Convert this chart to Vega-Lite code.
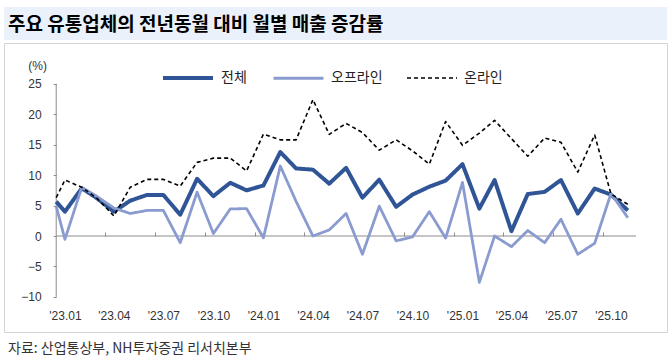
{
  "$schema": "https://vega.github.io/schema/vega-lite/v6.json",
  "background": "white",
  "padding": {"left": 3, "top": 7, "right": 0, "bottom": 0},
  "spacing": 2,
  "config": {
    "font": "Liberation Sans",
    "axis": {"labelFont": "Liberation Sans", "labelFontSize": 12, "labelColor": "#333", "titleFont": "Liberation Sans", "titleFontWeight": "normal", "titleFontSize": 12, "titleColor": "#333"}
  },
  "vconcat": [
    {
      "width": 663,
      "height": 33,
      "view": {"fill": "#eaf1fb", "stroke": null},
      "title": {"text": "주요 유통업체의 전년동월 대비 월별 매출 증감률", "anchor": "start", "frame": "group", "offset": -28, "dx": 4, "fontSize": 19, "font": "Noto Sans CJK KR", "fontWeight": "bold", "color": "#000000"},
      "data": {"values": [{"k": 1}]},
      "mark": {"type": "rect", "opacity": 0},
      "encoding": {}
    },
    {
      "width": 663,
      "height": 289,
      "view": {"fill": "white", "stroke": "#d4d4d4"},
      "title": {"text": "자료: 산업통상부, NH투자증권 리서치본부", "orient": "bottom", "anchor": "start", "frame": "group", "offset": 10, "dx": 4, "fontSize": 14, "font": "Noto Sans CJK KR", "fontWeight": "normal", "color": "#333"},
      "layer": [
        {
          "data": {"values": [{"k": 1}]},
          "mark": {"type": "rule", "color": "#8c8c8c", "strokeWidth": 1},
          "encoding": {
            "x": {"datum": {"year": 2022, "month": 12, "date": 16}, "type": "temporal", "scale": {"domain": [{"year": 2022, "month": 9, "date": 11}, {"year": 2026, "month": 1, "date": 12}]}, "axis": null},
            "y": {"datum": -10, "type": "quantitative", "scale": {"domain": [-15.77, 31.71], "nice": false, "zero": false}, "axis": null},
            "y2": {"datum": 25}
          }
        },
        {
          "data": {"values": [{"k": 1}]},
          "mark": {"type": "rule", "color": "#8c8c8c", "strokeWidth": 1},
          "encoding": {
            "x": {"datum": {"year": 2022, "month": 12, "date": 16}, "type": "temporal", "scale": {"domain": [{"year": 2022, "month": 9, "date": 11}, {"year": 2026, "month": 1, "date": 12}]},
              "axis": {"orient": "top", "offset": -193, "values": [{"year": 2023, "month": 3, "date": 16}, {"year": 2023, "month": 6, "date": 16}, {"year": 2023, "month": 9, "date": 16}, {"year": 2023, "month": 12, "date": 16}, {"year": 2024, "month": 3, "date": 16}, {"year": 2024, "month": 6, "date": 16}, {"year": 2024, "month": 9, "date": 16}, {"year": 2024, "month": 12, "date": 16}, {"year": 2025, "month": 3, "date": 16}, {"year": 2025, "month": 6, "date": 16}, {"year": 2025, "month": 9, "date": 16}], "labels": false, "domain": false, "grid": false, "ticks": true, "tickSize": 4, "tickColor": "#8c8c8c", "title": null}},
            "x2": {"datum": {"year": 2025, "month": 11, "date": 16}},
            "y": {"datum": 0, "type": "quantitative", "scale": {"domain": [-15.77, 31.71], "nice": false, "zero": false}, "axis": null}
          }
        },
        {
          "data": {"values": [
            {"month": "2022/12/16", "series": "전체", "value": 5.65},
            {"month": "2023/01/01", "series": "전체", "value": 4.0},
            {"month": "2023/02/01", "series": "전체", "value": 7.85},
            {"month": "2023/03/01", "series": "전체", "value": 6.2},
            {"month": "2023/04/01", "series": "전체", "value": 4.0},
            {"month": "2023/05/01", "series": "전체", "value": 5.8},
            {"month": "2023/06/01", "series": "전체", "value": 6.75},
            {"month": "2023/07/01", "series": "전체", "value": 6.75},
            {"month": "2023/08/01", "series": "전체", "value": 3.5},
            {"month": "2023/09/01", "series": "전체", "value": 9.4},
            {"month": "2023/10/01", "series": "전체", "value": 6.55},
            {"month": "2023/11/01", "series": "전체", "value": 8.75},
            {"month": "2023/12/01", "series": "전체", "value": 7.5},
            {"month": "2024/01/01", "series": "전체", "value": 8.3},
            {"month": "2024/02/01", "series": "전체", "value": 13.8},
            {"month": "2024/03/01", "series": "전체", "value": 11.1},
            {"month": "2024/04/01", "series": "전체", "value": 10.9},
            {"month": "2024/05/01", "series": "전체", "value": 8.6},
            {"month": "2024/06/01", "series": "전체", "value": 11.2},
            {"month": "2024/07/01", "series": "전체", "value": 6.3},
            {"month": "2024/08/01", "series": "전체", "value": 9.25},
            {"month": "2024/09/01", "series": "전체", "value": 4.8},
            {"month": "2024/10/01", "series": "전체", "value": 6.8},
            {"month": "2024/11/01", "series": "전체", "value": 8.1},
            {"month": "2024/12/01", "series": "전체", "value": 9.1},
            {"month": "2025/01/01", "series": "전체", "value": 11.8},
            {"month": "2025/02/01", "series": "전체", "value": 4.5},
            {"month": "2025/03/01", "series": "전체", "value": 9.2},
            {"month": "2025/04/01", "series": "전체", "value": 0.8},
            {"month": "2025/05/01", "series": "전체", "value": 6.9},
            {"month": "2025/06/01", "series": "전체", "value": 7.25},
            {"month": "2025/07/01", "series": "전체", "value": 9.2},
            {"month": "2025/08/01", "series": "전체", "value": 3.7},
            {"month": "2025/09/01", "series": "전체", "value": 7.8},
            {"month": "2025/10/01", "series": "전체", "value": 6.8},
            {"month": "2025/11/01", "series": "전체", "value": 4.2},
            {"month": "2022/12/16", "series": "오프라인", "value": 4.9},
            {"month": "2023/01/01", "series": "오프라인", "value": -0.55},
            {"month": "2023/02/01", "series": "오프라인", "value": 8.0},
            {"month": "2023/03/01", "series": "오프라인", "value": 6.5},
            {"month": "2023/04/01", "series": "오프라인", "value": 4.6},
            {"month": "2023/05/01", "series": "오프라인", "value": 3.7},
            {"month": "2023/06/01", "series": "오프라인", "value": 4.2},
            {"month": "2023/07/01", "series": "오프라인", "value": 4.2},
            {"month": "2023/08/01", "series": "오프라인", "value": -1.1},
            {"month": "2023/09/01", "series": "오프라인", "value": 7.2},
            {"month": "2023/10/01", "series": "오프라인", "value": 0.4},
            {"month": "2023/11/01", "series": "오프라인", "value": 4.45},
            {"month": "2023/12/01", "series": "오프라인", "value": 4.5},
            {"month": "2024/01/01", "series": "오프라인", "value": -0.3},
            {"month": "2024/02/01", "series": "오프라인", "value": 11.5},
            {"month": "2024/03/01", "series": "오프라인", "value": 5.7},
            {"month": "2024/04/01", "series": "오프라인", "value": 0.0},
            {"month": "2024/05/01", "series": "오프라인", "value": 1.0},
            {"month": "2024/06/01", "series": "오프라인", "value": 3.7},
            {"month": "2024/07/01", "series": "오프라인", "value": -3.0},
            {"month": "2024/08/01", "series": "오프라인", "value": 4.9},
            {"month": "2024/09/01", "series": "오프라인", "value": -0.8},
            {"month": "2024/10/01", "series": "오프라인", "value": -0.15},
            {"month": "2024/11/01", "series": "오프라인", "value": 4.0},
            {"month": "2024/12/01", "series": "오프라인", "value": -0.35},
            {"month": "2025/01/01", "series": "오프라인", "value": 8.8},
            {"month": "2025/02/01", "series": "오프라인", "value": -7.6},
            {"month": "2025/03/01", "series": "오프라인", "value": 0.0},
            {"month": "2025/04/01", "series": "오프라인", "value": -1.75},
            {"month": "2025/05/01", "series": "오프라인", "value": 0.9},
            {"month": "2025/06/01", "series": "오프라인", "value": -1.1},
            {"month": "2025/07/01", "series": "오프라인", "value": 2.75},
            {"month": "2025/08/01", "series": "오프라인", "value": -3.0},
            {"month": "2025/09/01", "series": "오프라인", "value": -1.2},
            {"month": "2025/10/01", "series": "오프라인", "value": 7.0},
            {"month": "2025/11/01", "series": "오프라인", "value": 3.0},
            {"month": "2022/12/16", "series": "온라인", "value": 6.3},
            {"month": "2023/01/01", "series": "온라인", "value": 9.2},
            {"month": "2023/02/01", "series": "온라인", "value": 8.0},
            {"month": "2023/03/01", "series": "온라인", "value": 6.2},
            {"month": "2023/04/01", "series": "온라인", "value": 3.3},
            {"month": "2023/05/01", "series": "온라인", "value": 8.0},
            {"month": "2023/06/01", "series": "온라인", "value": 9.3},
            {"month": "2023/07/01", "series": "온라인", "value": 9.3},
            {"month": "2023/08/01", "series": "온라인", "value": 8.2},
            {"month": "2023/09/01", "series": "온라인", "value": 12.1},
            {"month": "2023/10/01", "series": "온라인", "value": 12.8},
            {"month": "2023/11/01", "series": "온라인", "value": 12.8},
            {"month": "2023/12/01", "series": "온라인", "value": 10.7},
            {"month": "2024/01/01", "series": "온라인", "value": 16.75},
            {"month": "2024/02/01", "series": "온라인", "value": 15.8},
            {"month": "2024/03/01", "series": "온라인", "value": 15.8},
            {"month": "2024/04/01", "series": "온라인", "value": 22.4},
            {"month": "2024/05/01", "series": "온라인", "value": 16.7},
            {"month": "2024/06/01", "series": "온라인", "value": 18.5},
            {"month": "2024/07/01", "series": "온라인", "value": 17.0},
            {"month": "2024/08/01", "series": "온라인", "value": 14.1},
            {"month": "2024/09/01", "series": "온라인", "value": 15.8},
            {"month": "2024/10/01", "series": "온라인", "value": 14.0},
            {"month": "2024/11/01", "series": "온라인", "value": 11.8},
            {"month": "2024/12/01", "series": "온라인", "value": 18.8},
            {"month": "2025/01/01", "series": "온라인", "value": 14.9},
            {"month": "2025/02/01", "series": "온라인", "value": 16.9},
            {"month": "2025/03/01", "series": "온라인", "value": 19.0},
            {"month": "2025/04/01", "series": "온라인", "value": 16.0},
            {"month": "2025/05/01", "series": "온라인", "value": 13.1},
            {"month": "2025/06/01", "series": "온라인", "value": 16.1},
            {"month": "2025/07/01", "series": "온라인", "value": 15.4},
            {"month": "2025/08/01", "series": "온라인", "value": 10.5},
            {"month": "2025/09/01", "series": "온라인", "value": 16.6},
            {"month": "2025/10/01", "series": "온라인", "value": 6.9},
            {"month": "2025/11/01", "series": "온라인", "value": 5.2}
          ]},
          "mark": {"type": "line", "strokeJoin": "round", "clip": true},
          "encoding": {
            "x": {"field": "month", "type": "temporal", "scale": {"domain": [{"year": 2022, "month": 9, "date": 11}, {"year": 2026, "month": 1, "date": 12}]},
              "axis": {"orient": "bottom", "offset": -22, "values": [{"year": 2023, "month": 1, "date": 1}, {"year": 2023, "month": 4, "date": 1}, {"year": 2023, "month": 7, "date": 1}, {"year": 2023, "month": 10, "date": 1}, {"year": 2024, "month": 1, "date": 1}, {"year": 2024, "month": 4, "date": 1}, {"year": 2024, "month": 7, "date": 1}, {"year": 2024, "month": 10, "date": 1}, {"year": 2025, "month": 1, "date": 1}, {"year": 2025, "month": 4, "date": 1}, {"year": 2025, "month": 7, "date": 1}, {"year": 2025, "month": 10, "date": 1}], "format": "'%y.%m", "ticks": false, "domain": false, "grid": false, "labelPadding": 0, "labelBaseline": "top", "labelFlush": false, "labelOverlap": false, "title": null}},
            "y": {"field": "value", "type": "quantitative", "scale": {"domain": [-15.77, 31.71], "nice": false, "zero": false},
              "axis": {"orient": "left", "offset": -52.2, "values": [-10, -5, 0, 5, 10, 15, 20, 25], "domain": false, "grid": false, "tickSize": 3, "tickColor": "#8c8c8c", "labelPadding": 12, "title": "(%)", "titleAngle": 0, "titleAlign": "center", "titleBaseline": "middle", "titleX": -19, "titleY": 22}},
            "color": {"field": "series", "type": "nominal", "scale": {"domain": ["전체", "오프라인", "온라인"], "range": ["#2f5597", "#8a9bd0", "#000000"]},
              "legend": {"title": null, "orient": "none", "legendX": 157, "legendY": 44, "direction": "horizontal", "symbolType": "stroke", "symbolSize": 2500, "labelFont": "Noto Sans CJK KR", "labelFontSize": 14, "labelColor": "#222", "columnPadding": 20, "labelOffset": 6, "padding": 0}},
            "strokeWidth": {"field": "series", "type": "nominal", "scale": {"domain": ["전체", "오프라인", "온라인"], "range": [4, 1.6, 1.5]},
              "legend": {"title": null, "orient": "none", "legendX": 157, "legendY": 44, "direction": "horizontal", "symbolType": "stroke", "symbolSize": 2500, "labelFont": "Noto Sans CJK KR", "labelFontSize": 14, "labelColor": "#222", "columnPadding": 20, "labelOffset": 6, "padding": 0}},
            "strokeDash": {"field": "series", "type": "nominal", "scale": {"domain": ["전체", "오프라인", "온라인"], "range": [[1, 0], [1, 0], [4, 3]]},
              "legend": {"title": null, "orient": "none", "legendX": 157, "legendY": 44, "direction": "horizontal", "symbolType": "stroke", "symbolSize": 2500, "labelFont": "Noto Sans CJK KR", "labelFontSize": 14, "labelColor": "#222", "columnPadding": 20, "labelOffset": 6, "padding": 0}}
          }
        }
      ],
      "resolve": {"axis": {"x": "independent", "y": "independent"}}
    }
  ]
}
